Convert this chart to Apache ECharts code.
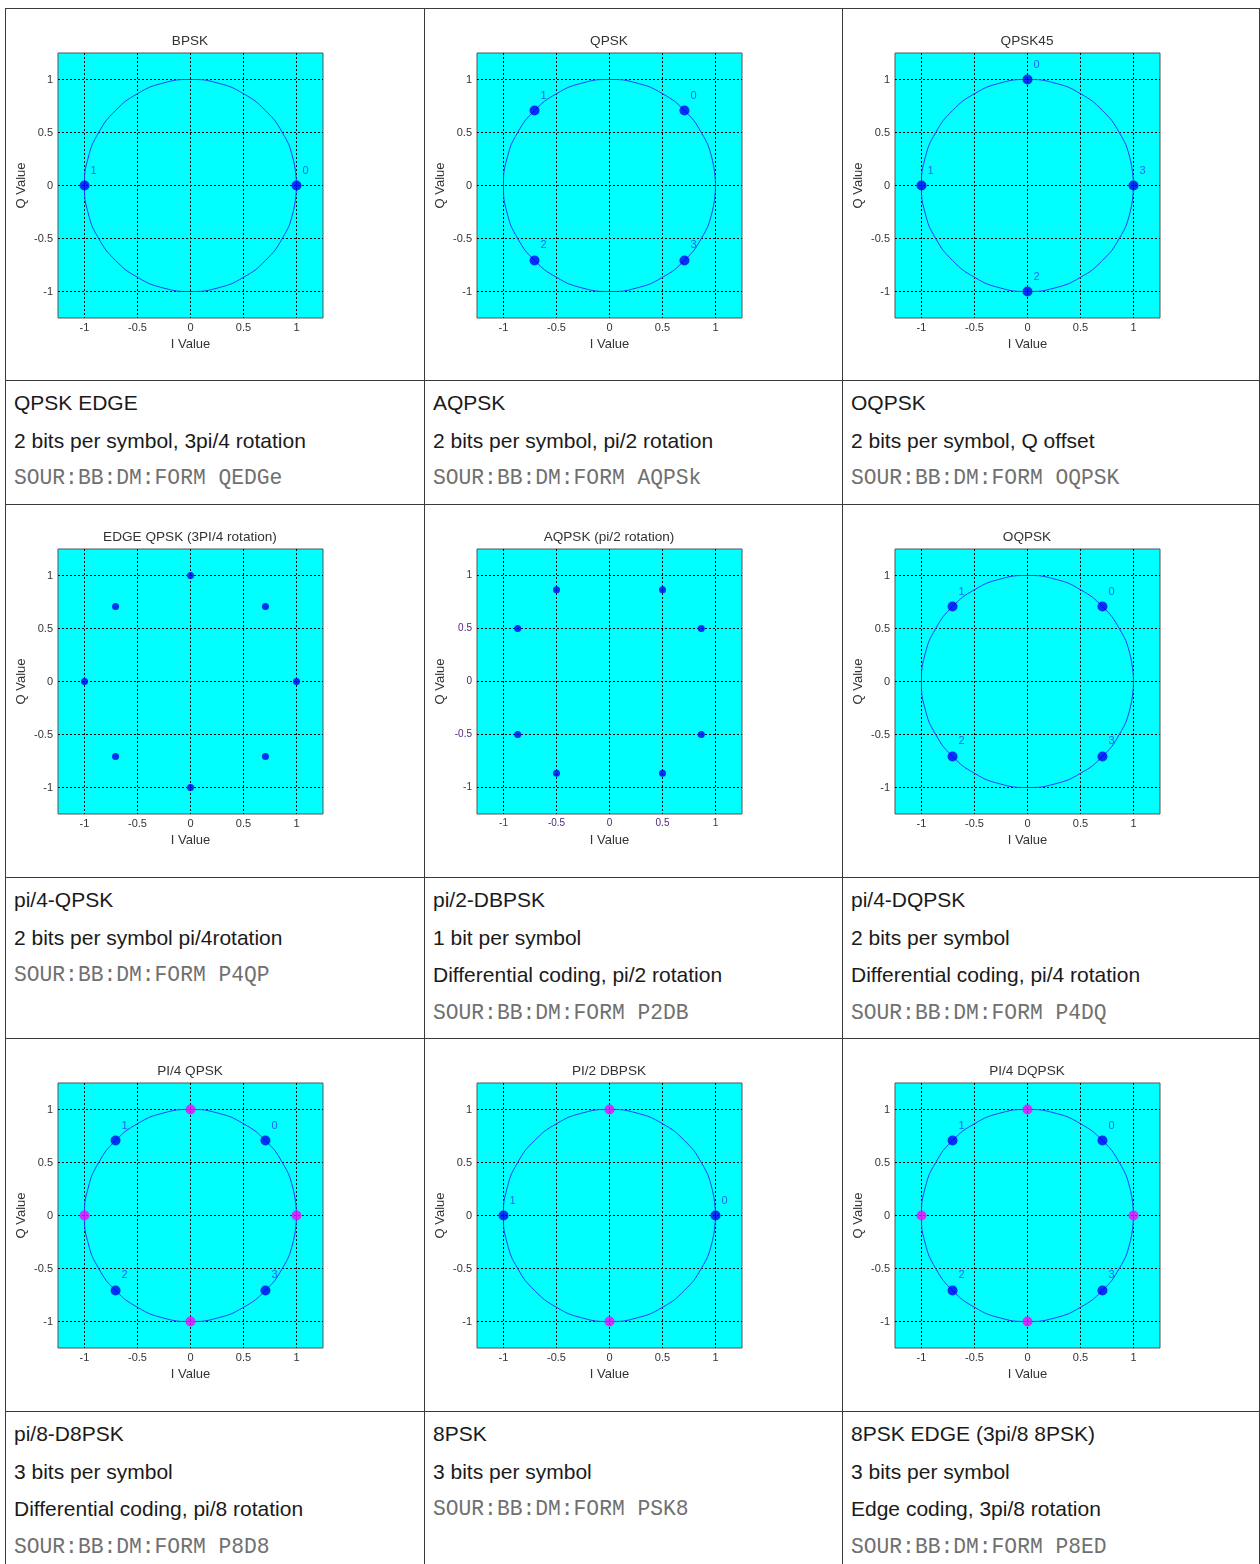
<!DOCTYPE html>
<html>
<head>
<meta charset="utf-8">
<title>PSK constellations</title>
<script src="https://cdn.jsdelivr.net/npm/echarts@6.0.0/dist/echarts.min.js"></script>
<style>
  html, body { margin: 0; padding: 0; background: #fff; }
  #page { position: relative; width: 1260px; height: 1564px; overflow: hidden; }
  .chart { position: absolute; }
  .txt { position: absolute; font-family: "Liberation Sans", Arial, sans-serif; font-size: 21px;
         color: #1a1a1a; line-height: 37.5px; white-space: nowrap; }
  .mono { font-family: "Liberation Mono", "Courier New", monospace; font-size: 21.3px; color: #707070;
          padding-top: 1px; }
  .line { position: absolute; background: #3a3a3a; }
</style>
</head>
<body>
<div id="page"></div>
<script>
// tick values on both axes
const tickValues = [-1, -0.5, 0, 0.5, 1];

// unit circle behind the symbols, 15 degree steps
const ringI = [1, 0.966, 0.866, 0.707, 0.5, 0.259, 0, -0.259, -0.5, -0.707, -0.866, -0.966, -1,
               -0.966, -0.866, -0.707, -0.5, -0.259, 0, 0.259, 0.5, 0.707, 0.866, 0.966, 1];
const ringQ = [0, 0.259, 0.5, 0.707, 0.866, 0.966, 1, 0.966, 0.866, 0.707, 0.5, 0.259, 0,
               -0.259, -0.5, -0.707, -0.866, -0.966, -1, -0.966, -0.866, -0.707, -0.5, -0.259, 0];

const bpskI = [1, -1];
const bpskQ = [0, 0];
const bpskLabels = ['0', '1'];

const qpskI = [0.707, -0.707, -0.707, 0.707];
const qpskQ = [0.707, 0.707, -0.707, -0.707];
const qpskLabels = ['0', '1', '2', '3'];

const qpsk45I = [0, -1, 0, 1];
const qpsk45Q = [1, 0, -1, 0];

const edgeI = [0, 0.707, 1, 0.707, 0, -0.707, -1, -0.707];
const edgeQ = [1, 0.707, 0, -0.707, -1, -0.707, 0, 0.707];

const aqpskI = [0.5, 0.866, 0.866, 0.5, -0.5, -0.866, -0.866, -0.5];
const aqpskQ = [0.866, 0.5, -0.5, -0.866, -0.866, -0.5, 0.5, 0.866];

const oqpskI = [0.707, -0.707, -0.707, 0.707];
const oqpskQ = [0.707, 0.707, -0.707, -0.707];

// magenta points
const crossI = [0, 1, 0, -1];
const crossQ = [1, 0, -1, 0];
const dbpskMagI = [0, 0];
const dbpskMagQ = [1, -1];

const panels = [
  { title: 'BPSK', ring: true, blue: [bpskI, bpskQ, bpskLabels] },
  { title: 'QPSK', ring: true, blue: [qpskI, qpskQ, qpskLabels] },
  { title: 'QPSK45', ring: true, blue: [qpsk45I, qpsk45Q, qpskLabels] },
  { title: 'EDGE QPSK (3PI/4 rotation)', ring: false, blue: [edgeI, edgeQ, null], dot: 7 },
  { title: 'AQPSK (pi/2 rotation)', ring: false, blue: [aqpskI, aqpskQ, null], dot: 7, tickColor: '#4b2a72', tickSize: 10 },
  { title: 'OQPSK', ring: true, blue: [oqpskI, oqpskQ, qpskLabels] },
  { title: 'PI/4 QPSK', ring: true, blue: [qpskI, qpskQ, qpskLabels], pink: [crossI, crossQ] },
  { title: 'PI/2 DBPSK', ring: true, blue: [bpskI, bpskQ, bpskLabels], pink: [dbpskMagI, dbpskMagQ] },
  { title: 'PI/4 DQPSK', ring: true, blue: [qpskI, qpskQ, qpskLabels], pink: [crossI, crossQ] }
];

const notes = [
  ['QPSK EDGE', '2 bits per symbol, 3pi/4 rotation', 'SOUR:BB:DM:FORM QEDGe'],
  ['AQPSK', '2 bits per symbol, pi/2 rotation', 'SOUR:BB:DM:FORM AQPSk'],
  ['OQPSK', '2 bits per symbol, Q offset', 'SOUR:BB:DM:FORM OQPSK'],
  ['pi/4-QPSK', '2 bits per symbol pi/4rotation', 'SOUR:BB:DM:FORM P4QP'],
  ['pi/2-DBPSK', '1 bit per symbol', 'Differential coding, pi/2 rotation', 'SOUR:BB:DM:FORM P2DB'],
  ['pi/4-DQPSK', '2 bits per symbol', 'Differential coding, pi/4 rotation', 'SOUR:BB:DM:FORM P4DQ'],
  ['pi/8-D8PSK', '3 bits per symbol', 'Differential coding, pi/8 rotation', 'SOUR:BB:DM:FORM P8D8'],
  ['8PSK', '3 bits per symbol', 'SOUR:BB:DM:FORM PSK8'],
  ['8PSK EDGE (3pi/8 8PSK)', '3 bits per symbol', 'Edge coding, 3pi/8 rotation', 'SOUR:BB:DM:FORM P8ED']
];

const colX = [5, 424, 842, 1259];
const rowY = [8, 380, 504, 877, 1038, 1411, 1564];
const FONT = '"Liberation Sans", Arial, sans-serif';
const page = document.getElementById('page');

function pts(xs, ys, labels) {
  return xs.map((v, k) => ({ value: [v, ys[k]], name: labels ? labels[k] : '' }));
}

function axis(p, name, isY) {
  return {
    type: 'value', min: -1.25, max: 1.25,
    name: name, nameLocation: 'middle', nameGap: isY ? 30 : 20, nameMoveOverlap: false,
    nameTextStyle: { color: '#333', fontSize: 13, fontFamily: FONT },
    axisLine: { show: false },
    axisTick: { show: false, customValues: tickValues },
    axisLabel: { customValues: tickValues, margin: isY ? 5 : 4, color: p.tickColor || '#333',
                 fontSize: p.tickSize || 11, fontFamily: FONT },
    splitLine: { show: true, lineStyle: { color: '#000', width: 1, type: [2, 2] } }
  };
}

function buildOption(p) {
  const series = [];
  if (p.ring) {
    series.push({
      type: 'line', data: ringI.map((v, k) => [v, ringQ[k]]), smooth: true, showSymbol: false,
      lineStyle: { color: '#1f3dff', width: 1 }, silent: true, z: 2
    });
  }
  const [bi, bq, bl] = p.blue;
  series.push({
    type: 'scatter', symbolSize: p.dot || 10, itemStyle: { color: '#0000f0' },
    data: pts(bi, bq, bl), silent: true, z: 4,
    label: { show: !!bl, formatter: '{b}', position: 'inside', offset: [9, -15],
             color: '#1e40ff', fontSize: 11, fontFamily: FONT }
  });
  if (p.pink) {
    series.push({
      type: 'scatter', symbolSize: 10, itemStyle: { color: '#ff00ff' },
      data: pts(p.pink[0], p.pink[1], null), silent: true, z: 4
    });
  }
  return {
    animation: false,
    title: { text: p.title, left: 185, top: 26, padding: 0, textAlign: 'center',
             textStyle: { color: '#333', fontSize: 13.6, fontWeight: 'normal', fontFamily: FONT } },
    grid: { left: 53, top: 45, width: 265, height: 265, show: true, backgroundColor: '#00ffff',
            borderColor: '#555', borderWidth: 1, outerBoundsMode: 'none' },
    xAxis: axis(p, 'I Value', false),
    yAxis: axis(p, 'Q Value', true),
    series: series
  };
}

panels.forEach((p, i) => {
  const c = i % 3, r = Math.floor(i / 3) * 2;
  const div = document.createElement('div');
  div.className = 'chart';
  div.style.left = colX[c] + 'px';
  div.style.top = rowY[r] + 'px';
  div.style.width = (colX[c + 1] - colX[c]) + 'px';
  div.style.height = (rowY[r + 1] - rowY[r]) + 'px';
  page.appendChild(div);
  echarts.init(div).setOption(buildOption(p));
});

notes.forEach((lines, i) => {
  const c = i % 3, r = Math.floor(i / 3) * 2 + 1;
  const div = document.createElement('div');
  div.className = 'txt';
  div.style.left = (colX[c] + 9) + 'px';
  div.style.top = (rowY[r] + 4) + 'px';
  div.innerHTML = lines.map(t => t.indexOf('SOUR:') === 0
    ? '<div class="mono">' + t + '</div>' : '<div>' + t + '</div>').join('');
  page.appendChild(div);
});

// table rules
rowY.slice(0, 6).forEach(y => {
  const l = document.createElement('div');
  l.className = 'line';
  l.style.cssText = 'left:5px;top:' + y + 'px;width:1255px;height:1px;';
  page.appendChild(l);
});
colX.forEach(x => {
  const l = document.createElement('div');
  l.className = 'line';
  l.style.cssText = 'left:' + x + 'px;top:8px;width:1px;height:1556px;';
  page.appendChild(l);
});
</script>
</body>
</html>
